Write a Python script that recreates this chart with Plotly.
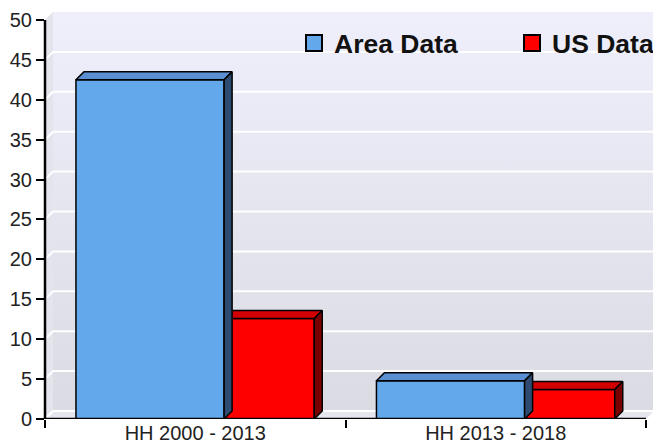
import plotly.graph_objects as go

# ---- data ----
categories = ["HH 2000 - 2013", "HH 2013 - 2018"]
area_data = [42.5, 4.8]
us_data = [12.6, 3.7]
series_names = ["Area Data", "US Data"]
y_ticks = list(range(0, 55, 5))

# ---- style ----
FONT = "Liberation Sans, Arial, sans-serif"
BLUE = dict(front="#63A8EB", top="#5A90D2", side="#2E4C72")
RED = dict(front="#FF0000", top="#D20000", side="#7A0000")
XMIN, XMAX = -0.5, len(categories) - 0.5
XR = [XMIN, XMAX + 7 / 300.5]
YR = [0, 51]
DX = 8 / 300.5   # 3D depth in x units
DY = 1.0         # 3D depth in y units

xs = list(range(len(categories)))

fig = go.Figure()

# ---- background walls (base subplot x/y) ----
fig.add_trace(go.Scatter(
    x=[XMIN + DX, XMAX + DX, XMAX + DX, XMIN + DX, XMIN + DX],
    y=[DY, DY, 50 + DY, 50 + DY, DY],
    mode="lines", line=dict(width=0), fill="toself",
    fillgradient=dict(type="vertical",
                      colorscale=[[0, "#DBDBE3"], [1, "#EFEFFC"]]),
    hoverinfo="skip", showlegend=False))
fig.add_trace(go.Scatter(
    x=[XMIN, XMIN, XMIN + DX, XMIN + DX, XMIN],
    y=[0, 50, 50 + DY, DY, 0],
    mode="lines", line=dict(width=0), fill="toself", fillcolor="#E4E4EC",
    hoverinfo="skip", showlegend=False))
fig.add_trace(go.Scatter(
    x=[XMIN, XMAX, XMAX + DX, XMIN + DX, XMIN],
    y=[0, 0, DY, DY, 0],
    mode="lines", line=dict(width=0), fill="toself", fillcolor="#E6E6EE",
    hoverinfo="skip", showlegend=False))
gx, gy = [], []
for v in y_ticks[:-1]:
    gx += [XMIN, XMIN + DX, XMAX + DX, None]
    gy += [v, v + DY, v + DY, None]
fig.add_trace(go.Scatter(x=gx, y=gy, mode="lines",
                         line=dict(color="#FFFFFF", width=2),
                         hoverinfo="skip", showlegend=False))

# ---- bars (overlay subplot x2/y2) ----
bar_specs = [
    (us_data, RED, 0.096, 0.30),
    (area_data, BLUE, -0.397, 0.493),
]
for vals, col, off, wid in bar_specs:
    fig.add_trace(go.Bar(
        x=xs, y=vals, offset=off, width=wid,
        marker=dict(color=col["front"], line=dict(color="black", width=1.5)),
        xaxis="x2", yaxis="y2", showlegend=False, hoverinfo="skip"))
    tx, ty, sx, sy = [], [], [], []
    for xi, v in zip(xs, vals):
        x0, x1 = xi + off, xi + off + wid
        tx += [x0, x0 + DX, x1 + DX, x1, x0, None]
        ty += [v, v + DY, v + DY, v, v, None]
        sx += [x1, x1 + DX, x1 + DX, x1, x1, None]
        sy += [0, DY, v + DY, v, 0, None]
    fig.add_trace(go.Scatter(x=tx, y=ty, mode="lines", fill="toself",
                             fillcolor=col["top"],
                             line=dict(color="black", width=1.5),
                             xaxis="x2", yaxis="y2", hoverinfo="skip",
                             showlegend=False))
    fig.add_trace(go.Scatter(x=sx, y=sy, mode="lines", fill="toself",
                             fillcolor=col["side"],
                             line=dict(color="black", width=1.5),
                             xaxis="x2", yaxis="y2", hoverinfo="skip",
                             showlegend=False))

# ---- legend entries (one legend each) ----
for name, col, lg in zip(series_names, [BLUE, RED], ["legend", "legend2"]):
    fig.add_trace(go.Scatter(
        x=[None], y=[None], mode="markers", name=name, legend=lg,
        marker=dict(symbol="square", size=16, color=col["front"],
                    line=dict(color="black", width=2)),
        xaxis="x2", yaxis="y2"))

# ---- axis lines ----
fig.add_shape(type="line", xref="paper", yref="y", x0=0, x1=0, y0=0, y1=50,
              line=dict(color="black", width=2.5))
fig.add_shape(type="line", xref="x", yref="y", x0=XMIN, x1=XMAX, y0=0, y1=0,
              line=dict(color="black", width=2.5))

legend_common = dict(orientation="h", y=0.982, xanchor="left", yanchor="top",
                     bgcolor="rgba(0,0,0,0)", borderwidth=0,
                     font=dict(family=FONT, size=26.5, color="#111111",
                               weight="bold"),
                     itemclick=False, itemdoubleclick=False)

fig.update_layout(
    width=653, height=444,
    margin=dict(l=45, r=0, t=12, b=25, pad=0, autoexpand=False),
    paper_bgcolor="white", plot_bgcolor="rgba(0,0,0,0)",
    barmode="overlay",
    font=dict(family=FONT, size=20, color="#222222"),
    showlegend=True,
    legend=dict(x=(294 - 45) / 608, **legend_common),
    legend2=dict(x=(512 - 45) / 608, **legend_common),
    xaxis=dict(range=XR, tickvals=xs, ticktext=categories, ticks="",
               showgrid=False, zeroline=False, showline=False,
               automargin=False, ticklabelstandoff=0,
               tickfont=dict(size=20, color="#222222")),
    yaxis=dict(range=YR, tickvals=y_ticks, ticks="outside", ticklen=8,
               tickwidth=2, tickcolor="black", showgrid=False,
               zeroline=False, showline=False, automargin=False,
               tickfont=dict(size=20, color="#222222")),
    xaxis2=dict(range=XR, overlaying="x", anchor="y2",
                tickvals=[XMIN + i for i in range(len(categories) + 1)],
                ticks="outside", ticklen=8, tickwidth=2, tickcolor="black",
                showticklabels=False, showgrid=False, zeroline=False,
                showline=False, automargin=False),
    yaxis2=dict(range=YR, overlaying="y", anchor="x2", showgrid=False,
                zeroline=False, showline=False, showticklabels=False,
                ticks="", automargin=False),
)

fig.write_html("out.html", config={"displayModeBar": False},
               post_script="document.body.style.margin='0';"
                           "document.body.style.overflow='hidden';")
